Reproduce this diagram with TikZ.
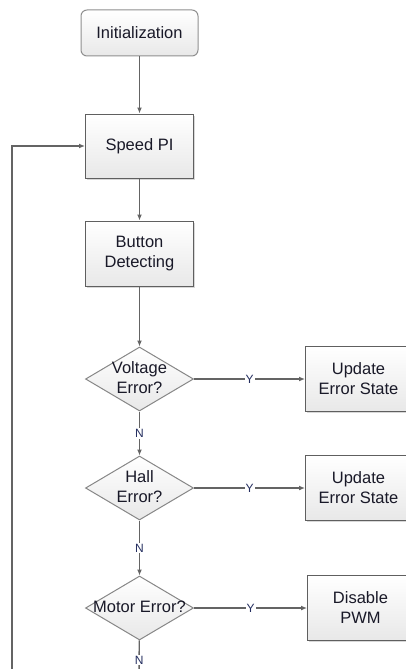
\documentclass[tikz,border=0pt]{standalone}
\usepackage{fontspec}
\setmainfont{Liberation Sans}
\usetikzlibrary{arrows.meta,positioning,shapes.geometric,shadows}
\definecolor{linegray}{RGB}{100,100,100}
\definecolor{edgegray}{RGB}{95,95,95}
\definecolor{labelblue}{RGB}{35,45,95}
\definecolor{textdark}{RGB}{25,25,40}
\newcommand{\decisiontext}[1]{\makebox[0pt]{\begin{tabular}{@{}c@{}}#1\end{tabular}}}
\tikzset{
  % Base style
  chart base/.style={
    >={Latex[length=6pt,width=5pt]},
    x=1pt, y=1pt,
    every node/.style={font=\fontsize{16.5}{20}\selectfont, text=textdark},
  },
  % Flow chart nodes
  start node/.style={rectangle, rounded corners=6pt, draw=edgegray!70, line width=1pt, minimum width=117pt, minimum height=46pt, inner sep=2pt, top color=white, bottom color=black!9},
  process node/.style={rectangle, draw=edgegray, line width=1pt, minimum width=108pt, minimum height=64pt, inner sep=2pt, align=center, top color=white, bottom color=black!9,
    drop shadow={shadow xshift=1.5pt, shadow yshift=-1.5pt, fill=black!30, opacity=0.5}},
  decision node/.style={diamond, draw=edgegray!75, line width=1pt, aspect=1.69, minimum width=108pt, minimum height=64pt, inner sep=0pt, top color=white, bottom color=black!9},
  % Connectors
  flow/.style={->, draw=linegray, line width=1.4pt},
  flow plain/.style={draw=linegray, line width=1.4pt},
  flow label/.style={font=\fontsize{12}{14}\selectfont, text=labelblue, fill=white, inner sep=1pt},
}

\begin{document}
\begin{tikzpicture}[chart base]
\clip (0,0) rectangle (406,-669);

% Main column
\node[start node] (init) at (139.5,-33) {Initialization};
\node[process node, below=57pt of init] (speed) {Speed PI};
\node[process node, below=42pt of speed, minimum height=65pt] (button) {Button\\Detecting};

% Error checks
\node[decision node, below=60pt of button] (volt) {\decisiontext{Voltage\\Error?}};
\node[decision node, below=44pt of volt] (hall) {\decisiontext{Hall\\Error?}};
\node[decision node, below=55pt of hall] (motor) {\decisiontext{Motor Error?}};

% Error handling
\node[process node, right=111pt of volt, minimum width=106pt, minimum height=65pt] (updvolt) {Update\\Error State};
\node[process node, right=111pt of hall, minimum width=106pt, minimum height=65pt] (updhall) {Update\\Error State};
\node[process node, right=113pt of motor, minimum width=106pt, minimum height=65pt] (pwm) {Disable\\PWM};

% Loose ends below the picture
\coordinate (exit) at (139,-680);
\coordinate (loopend) at (12,-680);

% Edges down the column
\draw[flow] (init) -- (speed);
\draw[flow] (speed) -- (button);
\draw[flow] (button) -- (volt);
\draw[flow] (volt) -- node[flow label] {N} (hall);
\draw[flow] (hall) -- node[flow label] {N} (motor);
\draw[flow plain] (motor) -- node[flow label] {N} (exit);

% Edges to the right
\draw[flow] (volt) -- node[flow label] {Y} (updvolt);
\draw[flow] (hall) -- node[flow label] {Y} (updhall);
\draw[flow] (motor) -- node[flow label] {Y} (pwm);

% Loop back
\draw[flow] (loopend) |- (speed.west);
\end{tikzpicture}
\end{document}
